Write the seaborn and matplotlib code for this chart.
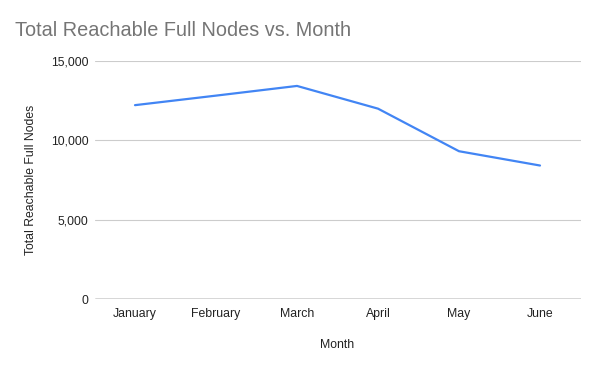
import matplotlib
matplotlib.use("Agg")
import matplotlib.pyplot as plt
import seaborn as sns
import pandas as pd

months = ["January", "February", "March", "April", "May", "June"]
nodes = [12220, 12820, 13430, 12000, 9320, 8420]
yticks = [0, 5000, 10000, 15000]

df = pd.DataFrame({"Month": months, "Nodes": nodes})

sns.set_style("white")
plt.rcParams['font.family'] = ['Liberation Sans', 'DejaVu Sans']

fig = plt.figure(figsize=(6, 3.71), dpi=100)
ax = fig.add_axes([0.1575, 0.1933, 0.81, 0.6423])
sns.lineplot(data=df, x="Month", y="Nodes", ax=ax, color="#4285F4", linewidth=1.6, sort=False)

ax.set_xlim(-0.5, 5.5)
ax.set_ylim(0, 15000)
ax.set_yticks(yticks)
ax.set_yticklabels([f"{v:,}" for v in yticks])
for v in yticks[1:]:
    ax.axhline(v, color="#cccccc", linewidth=0.8, zorder=0)
ax.axhline(0, color="#333333", linewidth=1.0, zorder=1)
for s in ax.spines.values():
    s.set_visible(False)
ax.tick_params(axis="both", length=0, labelsize=8.8, colors="#222222")
ax.tick_params(axis="y", pad=4.5)
ax.tick_params(axis="x", pad=6)
ax.set_xlabel("Month", fontsize=8.8, color="#222222", labelpad=14)
ax.set_ylabel("Total Reachable Full Nodes", fontsize=8.8, color="#222222", labelpad=10)

fig.text(15/600, 1 - 31/371, "Total Reachable Full Nodes vs. Month", fontsize=14.3, color="#757575", va="center", ha="left")

fig.savefig("out.png", dpi=100)
